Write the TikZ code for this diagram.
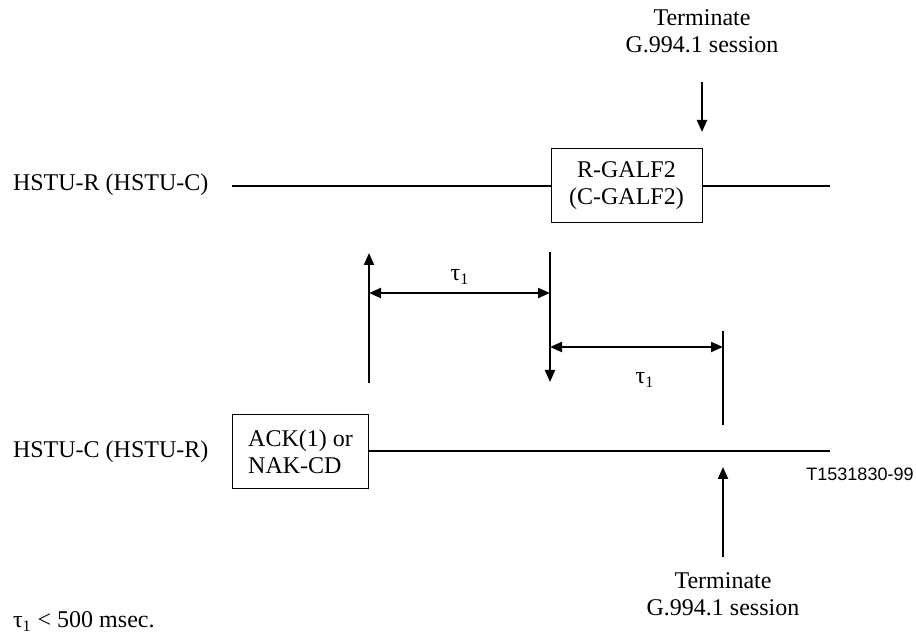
\documentclass[tikz,border=0pt]{standalone}
\usepackage{fontspec}
\setmainfont{Liberation Serif}
\newfontfamily\labelfont{Liberation Sans}
\usetikzlibrary{arrows.meta, positioning}
\tikzstyle{sigarrow} = [line width=1pt, -{Triangle[length=6pt,width=5pt]}]
\tikzstyle{spanarrow} = [line width=1pt, {Triangle[length=6pt,width=5pt]}-{Triangle[length=6pt,width=5pt]}]
\tikzstyle{msgbox} = [draw, line width=0.5pt, rectangle, minimum height=37pt, inner sep=2pt]
\tikzstyle{lane} = [line width=1pt]

\begin{document}
\begin{tikzpicture}[x=0.5pt, y=-0.5pt, every node/.style={font=\fontsize{12}{13.5}\selectfont}, align=center]
\useasboundingbox (0,0) rectangle (916,635);
% Nodes
\node (galf) [msgbox, minimum width=75.5pt] at (626.5,186) {R-GALF2\\(C-GALF2)};
\node (ack) [msgbox, minimum width=68pt, align=left] at (300.5,451.5) {ACK(1) or\\NAK-CD};
\node (hstur) [anchor=base west] at (6,191) {HSTU-R (HSTU-C)};
\node (hstuc) [anchor=base west] at (6,458) {HSTU-C (HSTU-R)};
\node (termtop) at (702,31) {Terminate\\G.994.1 session};
\node (termbot) at (723,594) {Terminate\\G.994.1 session};
\node (tauA) at (460,277) {τ\textsubscript{1}};
\node (tauB) at (645,380) {τ\textsubscript{1}};
\node (figid) [font=\labelfont\fontsize{9}{10}\selectfont] at (860,474) {T1531830-99};
\node (note) [anchor=base west] at (6,628) {τ\textsubscript{1} < 500 msec.};

% Line ends
\coordinate (laneR) at (232,186);
\coordinate (laneRend) at (830,186);
\coordinate (laneCend) at (830,451.5);
\coordinate (ackA) at (369,383);   \coordinate (ackB) at (369,253);
\coordinate (galfA) at (550,252);  \coordinate (galfB) at (550,382);
\coordinate (limA) at (723,331);   \coordinate (limB) at (723,425);
\coordinate (stopA) at (702,82);   \coordinate (stopB) at (702,132);
\coordinate (stopC) at (723,557);  \coordinate (stopD) at (723,467);

% Edges
\draw [lane] (laneR) -- (galf.west);
\draw [lane] (galf.east) -- (laneRend);
\draw [lane] (ack.east) -- (laneCend);
\draw [sigarrow] (ackA) -- (ackB);
\draw [sigarrow] (galfA) -- (galfB);
\draw [lane] (limA) -- (limB);
\draw [sigarrow] (stopA) -- (stopB);
\draw [sigarrow] (stopC) -- (stopD);
\draw [spanarrow] (ackA |- 0,293) -- (galfA |- 0,293);
\draw [spanarrow] (galfA |- 0,347) -- (limA |- 0,347);
\end{tikzpicture}
\end{document}
